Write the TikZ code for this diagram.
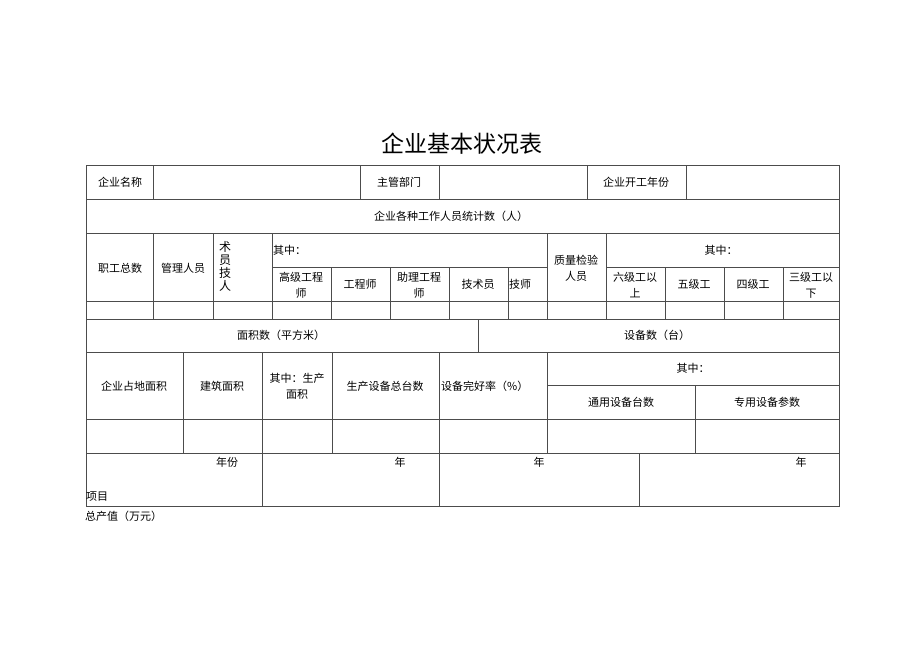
\documentclass[tikz,border=0pt]{standalone}
\usepackage{fontspec}
\setmainfont{Noto Sans CJK SC}
\tikzset{
  tline/.style={draw=black!70, line width=0.7pt},
  cell/.style={font=\fontsize{11}{16}\selectfont, align=center, inner sep=0pt},
  lcell/.style={cell, anchor=west},
  title/.style={font=\fontsize{23}{26}\selectfont, inner sep=0pt},
}
\begin{document}
\begin{tikzpicture}[x=1pt,y=-1pt]
  \useasboundingbox (0,0) rectangle (920,651);
  \node[title] (title) at (462,144) {企业基本状况表};
  \begin{scope}[tline]
    \draw (86,165) rectangle (839,506);
    \draw (86,199) -- (839,199);
    \draw (86,233) -- (839,233);
    \draw (272,267) -- (547,267);
    \draw (606,267) -- (839,267);
    \draw (86,301) -- (839,301);
    \draw (86,319) -- (839,319);
    \draw (86,352) -- (839,352);
    \draw (547,385) -- (839,385);
    \draw (86,419) -- (839,419);
    \draw (86,453) -- (839,453);
    \draw (153,165) -- (153,199);
    \draw (360,165) -- (360,199);
    \draw (439,165) -- (439,199);
    \draw (587,165) -- (587,199);
    \draw (686,165) -- (686,199);
    \draw (153,233) -- (153,319);
    \draw (213,233) -- (213,319);
    \draw (272,233) -- (272,319);
    \draw (331,267) -- (331,319);
    \draw (390,267) -- (390,319);
    \draw (449,267) -- (449,319);
    \draw (508,267) -- (508,319);
    \draw (547,233) -- (547,319);
    \draw (606,233) -- (606,319);
    \draw (665,267) -- (665,319);
    \draw (724,267) -- (724,319);
    \draw (783,267) -- (783,319);
    \draw (478,319) -- (478,352);
    \draw (183,352) -- (183,453);
    \draw (262,352) -- (262,453);
    \draw (332,352) -- (332,453);
    \draw (439,352) -- (439,453);
    \draw (547,352) -- (547,453);
    \draw (695,385) -- (695,453);
    \draw (262,453) -- (262,506);
    \draw (439,453) -- (439,506);
    \draw (639,453) -- (639,506);
  \end{scope}
  \node[cell] (name) at (120,182) {企业名称};
  \node[cell] (dept) at (399,182) {主管部门};
  \node[cell] (start) at (636,182) {企业开工年份};
  \node[cell] (staff) at (451,216) {企业各种工作人员统计数（人）};
  \node[cell] (total) at (120,268) {职工总数};
  \node[cell] (mgr) at (183,268) {管理人员};
  \node[cell, font=\fontsize{12}{13}\selectfont] (tech) at (225,266) {术\\员\\技\\人};
  \node[lcell] (of1) at (273,250) {其中：};
  \node[cell] (senior) at (301,285) {高级工程\\师};
  \node[cell] (engr) at (360,284) {工程师};
  \node[cell] (asst) at (419,285) {助理工程\\师};
  \node[cell] (techn) at (478,284) {技术员};
  \node[lcell] (techs) at (509,284) {技师};
  \node[cell] (qc) at (576,268) {质量检验\\人员};
  \node[cell] (of2) at (721,250) {其中：};
  \node[cell] (g6) at (635,285) {六级工以\\上};
  \node[cell] (g5) at (694,284) {五级工};
  \node[cell] (g4) at (753,284) {四级工};
  \node[cell] (g3) at (811,285) {三级工以\\下};
  \node[cell] (area) at (281,335) {面积数（平方米）};
  \node[cell] (equip) at (657,335) {设备数（台）};
  \node[cell] (land) at (134,386) {企业占地面积};
  \node[cell] (bldg) at (222,386) {建筑面积};
  \node[cell] (prod) at (297,386) {其中：生产\\面积};
  \node[cell] (total2) at (385,386) {生产设备总台数};
  \node[lcell] (rate) at (441,386) {设备完好率（\%）};
  \node[cell] (of3) at (693,368) {其中：};
  \node[cell] (general) at (621,402) {通用设备台数};
  \node[cell] (special) at (767,402) {专用设备参数};
  \node[cell] (year) at (227,462) {年份};
  \node[cell] (y1) at (400,462) {年};
  \node[cell] (y2) at (539,462) {年};
  \node[cell] (y3) at (801,462) {年};
  \node[lcell] (item) at (86,497) {项目};
  \node[lcell] (output) at (85,516) {总产值（万元）};
\end{tikzpicture}
\end{document}
